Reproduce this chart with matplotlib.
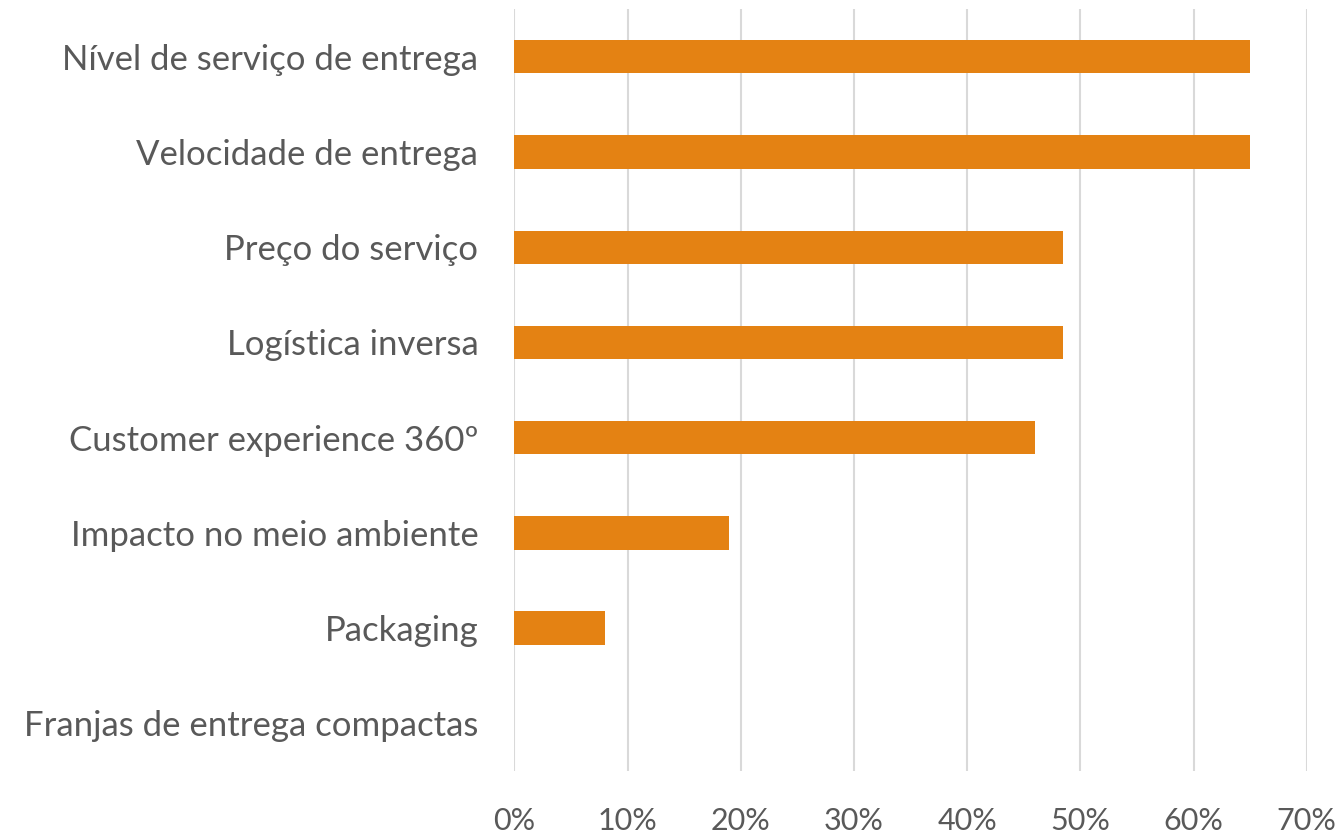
import matplotlib
matplotlib.use("Agg")
import matplotlib.pyplot as plt
from matplotlib.ticker import PercentFormatter

# dados
categorias = ["Nível de serviço de entrega", "Velocidade de entrega", "Preço do serviço",
              "Logística inversa", "Customer experience 360º", "Impacto no meio ambiente",
              "Packaging", "Franjas de entrega compactas"]
valores = [0.65, 0.65, 0.485, 0.485, 0.46, 0.19, 0.08, 0.0]
xticks = [0, 0.1, 0.2, 0.3, 0.4, 0.5, 0.6, 0.7]

plt.rcParams['font.family'] = ['Lato', 'DejaVu Sans']
cor_texto = "#595959"

fig = plt.figure(figsize=(13.43, 8.38), dpi=100)
ax = fig.add_axes([0.383, 0.080, 0.590, 0.909])

pos = list(range(len(categorias)))
ax.barh(pos, valores, height=0.35, color="#E48213", zorder=3)

ax.set_xlim(0, 0.7)
ax.set_ylim(len(categorias) - 0.5, -0.5)
ax.set_yticks(pos)
ax.set_yticklabels(categorias)
ax.set_xticks(xticks)
ax.xaxis.set_major_formatter(PercentFormatter(1.0, decimals=0))

ax.grid(axis="x", color="#D9D9D9", linewidth=1.5, zorder=0)
for s in ax.spines.values():
    s.set_visible(False)
ax.tick_params(axis="y", length=0, labelsize=25, labelcolor=cor_texto, pad=26)
ax.tick_params(axis="x", length=0, labelsize=22, labelcolor=cor_texto, pad=26)

fig.savefig("out.png", dpi=100)
